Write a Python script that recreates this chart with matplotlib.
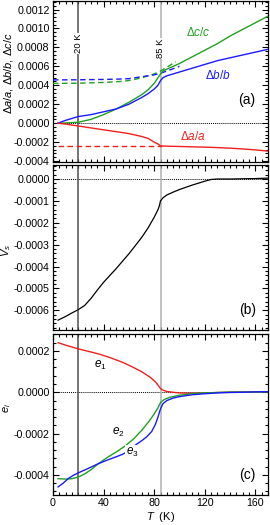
import matplotlib
matplotlib.use("Agg")
import matplotlib.pyplot as plt
from matplotlib.ticker import MultipleLocator, FuncFormatter

plt.rcParams['font.family'] = ['Liberation Sans', 'DejaVu Sans']
plt.rcParams['mathtext.fontset'] = 'custom'
plt.rcParams['mathtext.rm'] = 'Liberation Sans'
plt.rcParams['mathtext.it'] = 'Liberation Sans:italic'
plt.rcParams['mathtext.bf'] = 'Liberation Sans:bold'
plt.rcParams['axes.unicode_minus'] = False

# ---------------- data ----------------
# panel (a): lattice strains
T_a = [4, 10, 20, 30, 40, 50, 60, 70, 75, 80, 83, 85, 87, 90, 100, 110, 120, 130, 140, 150, 160, 170]
dc_c = [0.0, 0.000002, 0.00001, 0.00004, 0.00009, 0.00015, 0.00022, 0.0003, 0.00035, 0.00042, 0.00048,
        0.00052, 0.00055, 0.00057, 0.00063, 0.0007, 0.00077, 0.00084, 0.00092, 0.00099, 0.00106, 0.00113]
db_b = [0.0, 0.00003, 0.00007, 0.00009, 0.00012, 0.00015, 0.0002, 0.00027, 0.00031, 0.00036, 0.0004,
        0.00045, 0.00048, 0.0005, 0.00054, 0.00058, 0.00062, 0.00066, 0.00069, 0.00072, 0.00075, 0.00078]
da_a = [0.0, -0.00001, -0.00003, -0.00005, -0.00007, -0.00009, -0.00011, -0.00014, -0.00016, -0.0002, -0.00022,
        -0.00024, -0.000241, -0.000243, -0.000246, -0.00025, -0.000253, -0.000258, -0.000264, -0.000272,
        -0.000282, -0.000295]
# background (dashed) curves
T_da_bg = [4, 86]
da_bg = [-0.00024, -0.00024]
T_db_bg = [0, 20, 40, 53, 60, 70, 80, 85, 90, 100]
db_bg = [0.000457, 0.000458, 0.000462, 0.000466, 0.00047, 0.00049, 0.00051, 0.000527, 0.00055, 0.0006]
T_dc_bg = [0, 20, 40, 53, 60, 69, 80, 85, 90, 97]
dc_bg = [0.00042, 0.000422, 0.00043, 0.00044, 0.00045, 0.000475, 0.00052, 0.00055, 0.00059, 0.00065]

# panel (b): volume strain V_s
T_b = [4, 10, 15, 20, 25, 30, 35, 40, 50, 60, 65, 70, 75, 80, 83, 84, 85, 87, 90, 95, 100, 110, 120,
       125, 130, 140, 150, 160, 170]
V_s = [-0.000645, -0.000628, -0.000612, -0.000597, -0.000578, -0.000546, -0.000508, -0.000472, -0.000409,
       -0.000342, -0.000305, -0.000268, -0.000225, -0.000175, -0.00014, -0.000124, -0.0001, -0.000086,
       -0.000073, -0.00006, -0.000048, -0.000028, -0.00001, -0.000002, 0.0, 0.0, 0.000001, 0.000002,
       0.000004]

# panel (c): strain eigenvalues
T_e1 = [4, 10, 20, 30, 37, 45, 55, 63, 70, 77, 81, 83, 85, 87, 90, 95, 100, 110, 120, 130, 150, 170]
e1 = [0.00024, 0.000228, 0.00021, 0.000195, 0.000184, 0.000168, 0.000145, 0.000122, 0.0001, 0.000072,
      0.00005, 0.000035, 0.000018, 0.00001, 0.000004, 0.0, -0.000003, -0.000005, -0.000004, -0.000001,
      0.000002, 0.000003]
T_e2 = [4, 10, 15, 20, 25, 30, 36, 43, 50, 57, 64, 70, 76, 80, 83, 85, 88, 92, 100, 110, 120, 140, 170]
e2 = [-0.000418, -0.00042, -0.000418, -0.00041, -0.000395, -0.000375, -0.000345, -0.000315, -0.000289,
      -0.00026, -0.000224, -0.000185, -0.00014, -0.000105, -0.000075, -0.00005, -0.000035, -0.000025,
      -0.000014, -0.000007, -0.000003, 0.000001, 0.000002]
T_e3 = [4, 8, 12, 16, 20, 28, 36, 43, 50, 55, 58, 65, 70, 74, 78, 81, 83, 85, 87, 90, 95, 100, 110,
        120, 130, 140, 150, 160, 170]
e3 = [-0.000458, -0.00044, -0.000418, -0.000402, -0.00039, -0.000368, -0.000345, -0.000328, -0.000312,
      -0.0003, -0.00029, -0.000256, -0.000235, -0.000216, -0.00019, -0.000155, -0.00012, -0.00008,
      -0.000055, -0.00004, -0.000028, -0.000021, -0.000012, -0.000007, -0.000003, -0.000001, 0.0,
      0.000002, 0.000003]

T_marks = [20, 85]
x_ticks = [0, 40, 80, 120, 160]

RED = '#f02020'
GREEN = '#20a020'
BLUE = '#1a1aff'

def fmt4(v, pos):
    if abs(v) < 1e-9:
        v = 0.0
    return '%.4f' % v

# ---------------- figure ----------------
fig = plt.figure(figsize=(2.70, 5.25), dpi=100)
W, H = 270.0, 525.0
L, R = 53, 268
def add_ax(top, bottom):
    return fig.add_axes([L / W, 1 - bottom / H, (R - L) / W, (bottom - top) / H])

axa = add_ax(1, 162)
axb = add_ax(165, 330)
axc = add_ax(334, 495)

for ax in (axa, axb, axc):
    ax.set_xlim(0, 170)
    ax.xaxis.set_major_locator(MultipleLocator(40))
    ax.xaxis.set_minor_locator(MultipleLocator(5))
    ax.tick_params(which='both', direction='in', top=True, right=True, labelsize=7.7, width=0.8, pad=2.5)
    ax.tick_params(which='major', length=4)
    ax.tick_params(which='minor', length=2)
    ax.yaxis.set_major_formatter(FuncFormatter(fmt4))
    ax.axhline(0, color='black', lw=0.7, ls=(0, (1, 1)), zorder=1)
    ax.axvline(T_marks[0], color='#505050', lw=1.1, zorder=2)
    ax.axvline(T_marks[1], color='#b0b0b0', lw=1.1, zorder=2)
    for s in ax.spines.values():
        s.set_linewidth(0.9)

for ax in (axa, axb):
    ax.tick_params(labelbottom=False)

# panel (a)
axa.set_ylim(-0.00041, 0.00129)
axa.yaxis.set_major_locator(MultipleLocator(0.0002))
axa.yaxis.set_minor_locator(MultipleLocator(0.00004))
axa.plot(T_dc_bg, dc_bg, color=GREEN, lw=1.0, ls=(0, (4, 2.5)), zorder=3)
axa.plot(T_db_bg, db_bg, color=BLUE, lw=1.0, ls=(0, (4, 2.5)), zorder=3)
axa.plot(T_da_bg, da_bg, color=RED, lw=1.0, ls=(0, (4, 2.5)), zorder=3)
axa.plot(T_a, dc_c, color=GREEN, lw=1.0, zorder=4)
axa.plot(T_a, db_b, color=BLUE, lw=1.0, zorder=4)
axa.plot(T_a, da_a, color=RED, lw=1.0, zorder=4)
axa.text(114.8, 0.00096, r'$\Delta c/c$', color=GREEN, fontsize=8.5, ha='center', va='center')
axa.text(130.7, 0.0005, r'$\Delta b/b$', color=BLUE, fontsize=8.5, ha='center', va='center')
axa.text(111, -0.00014, r'$\Delta a/a$', color=RED, fontsize=8.5, ha='center', va='center')
axa.text(0.902, 0.385, '(a)', transform=axa.transAxes, fontsize=10, ha='center', va='center')
bb = dict(facecolor='white', edgecolor='none', pad=0.5)
axa.text(T_marks[0], 0.00084, '20 K', rotation=90, fontsize=6.8, ha='center', va='center', bbox=bb, zorder=5)
axa.text(T_marks[1], 0.00079, '85 K', rotation=90, fontsize=6.8, ha='center', va='center', bbox=bb, zorder=5)
axa.set_ylabel(r'$\Delta a/a$, $\Delta b/b$, $\Delta c/c$', fontsize=8)
axa.yaxis.set_label_coords(-0.175, 0.55)

# panel (b)
axb.set_ylim(-0.00069, 0.000064)
axb.yaxis.set_major_locator(MultipleLocator(0.0001))
axb.yaxis.set_minor_locator(MultipleLocator(0.00002))
axb.plot(T_b, V_s, color='black', lw=0.9, zorder=4)
axb.text(0.907, 0.121, '(b)', transform=axb.transAxes, fontsize=10, ha='center', va='center')
axb.set_ylabel(r'$V_s$', fontsize=8)
axb.yaxis.set_label_coords(-0.185, 0.48)

# panel (c)
axc.set_ylim(-0.000497, 0.000282)
axc.yaxis.set_major_locator(MultipleLocator(0.0002))
axc.yaxis.set_minor_locator(MultipleLocator(0.00004))
axc.plot(T_e1, e1, color=RED, lw=1.0, zorder=4)
axc.plot(T_e2, e2, color=GREEN, lw=1.0, zorder=4)
axc.plot(T_e3, e3, color=BLUE, lw=1.0, zorder=4)
axc.text(37.2, 0.00013, r'$e_1$', fontsize=8.5, ha='center', va='center')
axc.text(51.7, -0.000192, r'$e_2$', fontsize=8.5, ha='center', va='center')
axc.text(62.6, -0.00029, r'$e_3$', fontsize=8.5, ha='center', va='center',
         bbox=dict(facecolor='white', edgecolor='none', pad=0.3), zorder=5)
axc.text(0.902, 0.124, '(c)', transform=axc.transAxes, fontsize=10, ha='center', va='center')
axc.set_ylabel(r'$e_i$', fontsize=8)
axc.yaxis.set_label_coords(-0.185, 0.54)
axc.set_xticks(x_ticks)
axc.set_xlabel(r'$T$  (K)', fontsize=8, labelpad=1)

fig.savefig('out.png', dpi=100)
